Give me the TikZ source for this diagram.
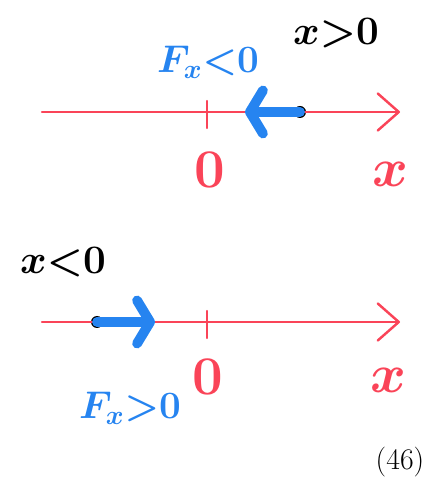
\RequirePackage{fix-cm}
\documentclass[tikz,border=0pt]{standalone}
\usepackage{amsmath}
\usepackage{tikz}
\usetikzlibrary{arrows.meta, positioning}
\definecolor{axisred}{RGB}{250,68,88}
\definecolor{forceblue}{RGB}{38,132,240}
\tikzset{
  axis/.style ={draw=axisred, line width=1.4pt, line cap=round,
                -{Straight Barb[length=4.2mm, width=7.4mm, round]}},
  tick/.style ={draw=axisred, line width=1.4pt, line cap=round},
  force/.style={draw=forceblue, line width=5.6pt, line cap=round,
                -{Straight Barb[length=2.6mm, width=8.6mm, round]}},
  mass/.style ={circle, fill=black, minimum size=2.4mm, inner sep=0pt},
  redlab/.style ={text=axisred, font=\fontsize{31}{31}\selectfont\boldmath, inner sep=0pt},
  bluelab/.style={text=forceblue, font=\fontsize{22}{22}\selectfont\boldmath, inner sep=0pt},
  blklab/.style ={text=black, font=\fontsize{23}{23}\selectfont\boldmath, inner sep=0pt},
}
\begin{document}
\begin{tikzpicture}
  \useasboundingbox (0,0) rectangle (8.86,9.58);
  % --- upper line: x > 0, force to the left ---------------------------------
  \coordinate (a1) at (0.84,7.34);
  \coordinate (b1) at (8.0,7.34);
  \coordinate (o1) at (4.14,7.34);
  \node[mass]  (m1) at (6.0,7.34) {};
  \coordinate (f1) at (4.9,7.34);

  \draw[axis] (a1) -- (b1);
  \draw[tick] ([yshift=2.2mm]o1) -- ([yshift=-3.2mm]o1);
  \draw[force] (m1.center) -- (f1);

  \node[redlab]  (z1)  at (4.2,6.18)  {$0$};
  \node[redlab]  (x1)  at (7.8,6.10)  {$x$};
  \node[bluelab] (fl1) at (4.16,8.34) {$F_x{<}0$};
  \node[blklab]  (p1)  at (6.72,8.92) {$x{>}0$};

  % --- lower line: x < 0, force to the right --------------------------------
  \coordinate (a2) at (0.84,3.14);
  \coordinate (b2) at (8.0,3.14);
  \coordinate (o2) at (4.14,3.14);
  \node[mass]  (m2) at (1.94,3.14) {};
  \coordinate (f2) at (3.1,3.14);

  \draw[axis] (a2) -- (b2);
  \draw[tick] ([yshift=2.2mm]o2) -- ([yshift=-3.2mm]o2);
  \draw[force] (m2.center) -- (f2);

  \node[blklab]  (p2)  at (1.26,4.34) {$x{<}0$};
  \node[redlab]  (z2)  at (4.16,2.04) {$0$};
  \node[redlab]  (x2)  at (7.76,1.98) {$x$};
  \node[bluelab] (fl2) at (2.6,1.42)  {$F_x{>}0$};

  \node[font=\fontsize{17}{20}\selectfont, inner sep=0pt] (eq) at (8.0,0.34) {(46)};
\end{tikzpicture}
\end{document}
